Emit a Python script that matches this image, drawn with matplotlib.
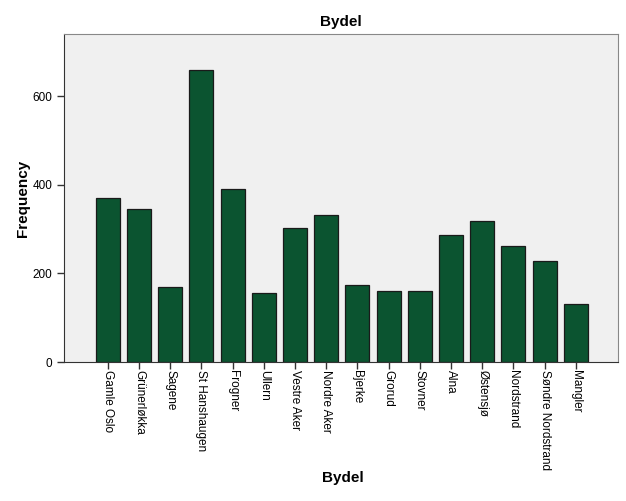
import numpy as np
import matplotlib
matplotlib.use("Agg")
import matplotlib.pyplot as plt

plt.rcParams["font.family"] = ["Liberation Sans", "DejaVu Sans"]

bydeler = ["Gamle Oslo", "Grünerløkka", "Sagene", "St Hanshaugen", "Frogner",
           "Ullern", "Vestre Aker", "Nordre Aker", "Bjerke", "Grorud",
           "Stovner", "Alna", "Østensjø", "Nordstrand", "Søndre Nordstrand",
           "Mangler"]
frequency = [370, 346, 169, 660, 390, 155, 302, 332, 173, 161,
             160, 286, 318, 262, 229, 132]
y_ticks = [0, 200, 400, 600]

fig = plt.figure(figsize=(6.26, 5.01), dpi=100)
ax = fig.add_axes([0.1022, 0.2774, 0.8850, 0.6546])
ax.set_facecolor("#F0F0F0")

x = np.arange(len(bydeler))
ax.bar(x, frequency, width=0.77, color="#0B5430", edgecolor="#1a1a1a", linewidth=0.9)

ax.set_xlim(-1.4, 16.35)
ax.set_ylim(0, 740)
ax.set_yticks(y_ticks)
ax.set_xticks(x)
ax.set_xticklabels(bydeler, rotation=270, ha="center", va="top", fontsize=8.5)
ax.tick_params(axis="y", labelsize=8.5, length=5, width=1, color="#333333")
ax.tick_params(axis="x", length=5, width=1, color="#333333", pad=1)

for side in ["top", "right"]:
    ax.spines[side].set_color("#888888")
for side in ["left", "bottom"]:
    ax.spines[side].set_color("#333333")

ax.set_title("Bydel", fontsize=11, fontweight="bold", pad=6)
ax.set_ylabel("Frequency", fontsize=11, fontweight="bold", labelpad=2)
fig.text(0.548, 0.045, "Bydel", fontsize=11, fontweight="bold", ha="center", va="center")

fig.savefig("out.png", dpi=100)
